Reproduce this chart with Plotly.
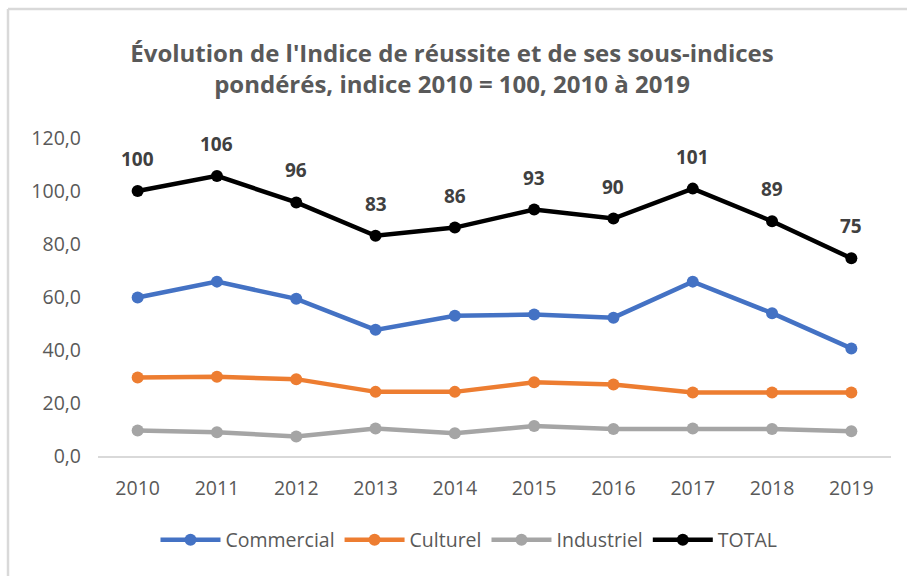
import plotly.graph_objects as go

years = ["2010", "2011", "2012", "2013", "2014", "2015", "2016", "2017", "2018", "2019"]
commercial = [59.8, 65.8, 59.3, 47.6, 52.9, 53.4, 52.2, 65.8, 53.9, 40.6]
culturel = [29.6, 29.9, 29.0, 24.2, 24.2, 27.8, 27.0, 24.0, 24.0, 24.0]
industriel = [9.6, 9.0, 7.4, 10.4, 8.6, 11.3, 10.2, 10.4, 10.2, 9.3]
total = [100.0, 105.7, 95.7, 83.1, 86.2, 93.0, 89.6, 100.9, 88.6, 74.6]

series = [
    ("Commercial", commercial, "#4472C4"),
    ("Culturel", culturel, "#ED7D31"),
    ("Industriel", industriel, "#A5A5A5"),
    ("TOTAL", total, "#000000"),
]

FONT = "Open Sans"

fig = go.Figure()
for name, vals, col in series:
    fig.add_trace(go.Scatter(
        x=years, y=vals, name=name, mode="lines+markers",
        line=dict(color=col, width=4.5),
        marker=dict(color=col, size=12),
        cliponaxis=False,
    ))

annotations = [
    dict(x=i, y=v, xref="x", yref="y", text=f"{v:.0f}", showarrow=False,
         yanchor="middle", yshift=32,
         font=dict(family=FONT, size=19, color="#404040", weight="bold"))
    for i, v in enumerate(total)
]

W, H = 907, 576
L, R, T, B = 98, 16, 138, 120
pw, ph = W - L - R, H - T - B
def px(x):
    return (x - L) / pw
def py(y):
    return (H - B - y) / ph

fig.update_layout(
    width=W, height=H,
    margin=dict(l=L, r=R, t=T, b=B),
    paper_bgcolor="white", plot_bgcolor="white",
    separators=", ",
    font=dict(family=FONT, color="#595959"),
    title=dict(
        text="Évolution de l'Indice de réussite et de ses sous-indices<br>pondérés, indice 2010 = 100, 2010 à 2019",
        x=452 / W, xanchor="center", xref="container",
        y=1 - 62 / H, yanchor="middle", yref="container",
        font=dict(family=FONT, size=24, color="#595959", weight="bold"),
    ),
    xaxis=dict(
        type="category", range=[-0.5, len(years) - 0.5],
        showgrid=False, showline=True, linecolor="#D9D9D9", linewidth=1.5,
        ticks="", ticklabelstandoff=14,
        tickfont=dict(family=FONT, size=19.5, color="#595959"),
    ),
    yaxis=dict(
        range=[0, 120], dtick=20, tickformat=".1f", showgrid=False,
        zeroline=False, showline=False, ticks="", ticklabelstandoff=16,
        tickfont=dict(family=FONT, size=19.5, color="#595959"),
    ),
    legend=dict(
        orientation="h", x=469 / W, xanchor="center", xref="container",
        y=1 - 540 / H, yanchor="middle", yref="container",
        font=dict(family=FONT, size=19.5, color="#595959"),
        itemwidth=60, tracegroupgap=0,
    ),
    annotations=annotations,
    showlegend=True,
    shapes=[
        dict(type="line", xref="paper", yref="paper", x0=px(8), x1=px(907), y0=py(9), y1=py(9),
             line=dict(color="#D9D9D9", width=2.5)),
        dict(type="line", xref="paper", yref="paper", x0=px(8), x1=px(8), y0=py(9), y1=py(576),
             line=dict(color="#D9D9D9", width=2.5)),
    ],
)

fig.write_html("out.html")
